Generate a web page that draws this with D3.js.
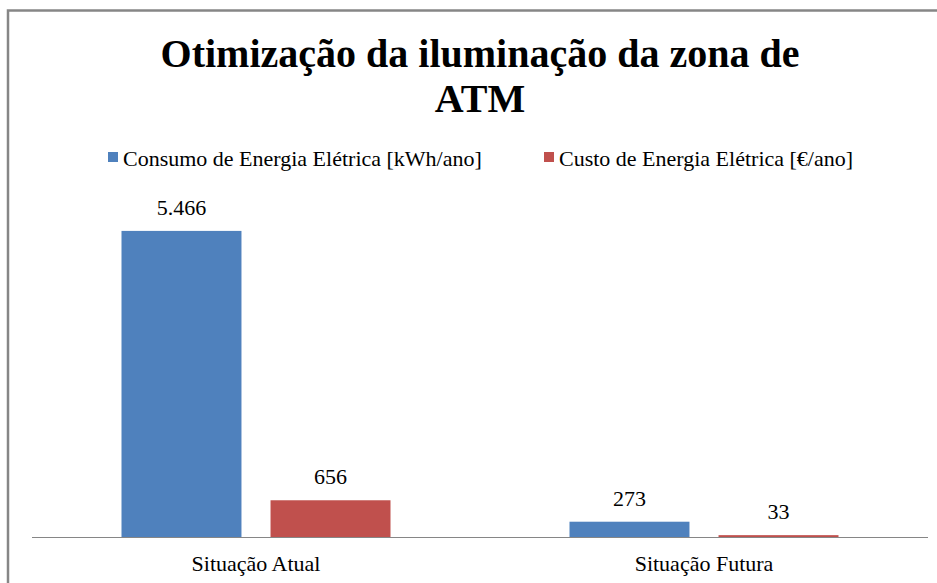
<!DOCTYPE html>
<html>
<head>
<meta charset="utf-8">
<script src="https://cdn.jsdelivr.net/npm/d3@7"></script>
</head>
<body style="margin:0">
<div id="chart"></div>
<script>
// chart data
const categories = ['Situação Atual', 'Situação Futura'];
const seriesNames = ['Consumo de Energia Elétrica [kWh/ano]', 'Custo de Energia Elétrica [€/ano]'];
const consumo = [5466, 273];
const custo = [656, 33];
const valueLabels = [['5.466', '273'], ['656', '33']];
const colors = ['#4f81bd', '#c0504d'];

let svg = d3.select('#chart')
  .append('svg')
  .attr('width', 937)
  .attr('height', 583);

// frame (top + left edge only visible)
svg.append('path')
  .attr('d', 'M8,583 V10.5 H937')
  .attr('fill', 'none')
  .attr('stroke', '#868686')
  .attr('stroke-width', 2.5);

// title
svg.append('text')
  .attr('x', 480).attr('y', 67)
  .attr('text-anchor', 'middle')
  .style('font-size', '40px')
  .style('font-weight', 'bold')
  .style('font-family', 'Liberation Serif')
  .text('Otimização da iluminação da zona de');
svg.append('text')
  .attr('x', 480).attr('y', 112)
  .attr('text-anchor', 'middle')
  .style('font-size', '40px')
  .style('font-weight', 'bold')
  .style('font-family', 'Liberation Serif')
  .text('ATM');

// scales
let x0 = d3.scaleBand()
  .domain(categories)
  .range([32, 928]);

let x1 = d3.scaleBand()
  .domain([0, 1])
  .range([89.5, 448 - 89.5])
  .paddingInner(0.195);

let y = d3.scaleLinear()
  .domain([0, 6000])
  .range([537, 201]);

let series = [consumo, custo];

// bars
let groups = svg.selectAll('.cat')
  .data(categories)
  .enter()
  .append('g')
  .attr('transform', d => `translate(${x0(d)},0)`);

series.forEach((vals, s) => {
  groups.append('rect')
    .attr('x', x1(s))
    .attr('width', x1.bandwidth())
    .attr('y', (d, i) => y(vals[i]))
    .attr('height', (d, i) => y(0) - y(vals[i]))
    .attr('fill', colors[s]);

  groups.append('text')
    .attr('x', x1(s) + x1.bandwidth() / 2)
    .attr('y', (d, i) => y(vals[i]) - 16)
    .attr('text-anchor', 'middle')
    .style('font-size', '22px')
    .style('font-family', 'Liberation Serif')
    .text((d, i) => valueLabels[s][i]);
});

// x axis
let xAxis = svg.append('g')
  .attr('transform', `translate(0,${y(0)})`)
  .call(d3.axisBottom(x0).tickSize(0).tickPadding(18));
xAxis.attr('font-family', 'Liberation Serif');
xAxis.select('.domain').attr('stroke', '#868686').attr('d', 'M32,0.5H928');
xAxis.selectAll('text')
  .style('font-size', '22px')
  .style('font-family', 'Liberation Serif');

// legend
let legendX = [108, 544];
let legend = svg.selectAll('.legend')
  .data(seriesNames)
  .enter()
  .append('g')
  .attr('transform', (d, i) => `translate(${legendX[i]},152)`);
legend.append('rect')
  .attr('width', 10)
  .attr('height', 10)
  .attr('fill', (d, i) => colors[i]);
legend.append('text')
  .attr('x', 15)
  .attr('y', 14)
  .style('font-size', '22px')
  .style('font-family', 'Liberation Serif')
  .text(d => d);
</script>
</body>
</html>
